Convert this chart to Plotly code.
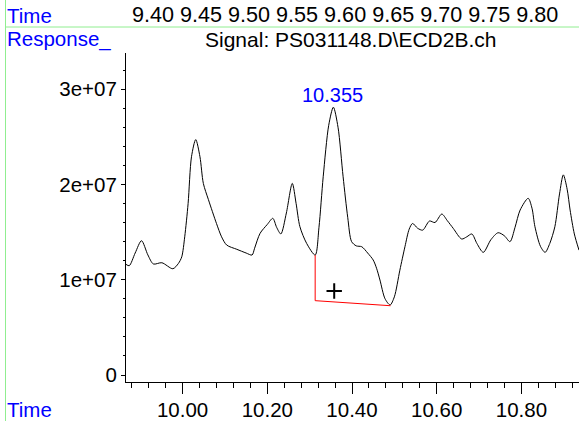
import plotly.graph_objects as go

# ---- data ----
time = [9.866, 9.874, 9.888, 9.903, 9.918, 9.931, 9.951, 9.977, 9.990, 9.998,
        10.005, 10.013, 10.021, 10.031, 10.041, 10.049, 10.061, 10.080, 10.092, 10.104,
        10.128, 10.150, 10.164, 10.170, 10.183, 10.200, 10.213, 10.222, 10.232, 10.245,
        10.259, 10.268, 10.277, 10.293, 10.313, 10.322, 10.332, 10.345, 10.356, 10.367,
        10.379, 10.390, 10.399, 10.410, 10.423, 10.437, 10.450, 10.458, 10.466, 10.478,
        10.490, 10.500, 10.513, 10.525, 10.535, 10.543, 10.555, 10.567, 10.583, 10.596,
        10.612, 10.625, 10.639, 10.659, 10.671, 10.683, 10.695, 10.710, 10.728, 10.745,
        10.760, 10.773, 10.785, 10.797, 10.816, 10.825, 10.832, 10.845, 10.856, 10.867,
        10.879, 10.890, 10.899, 10.908, 10.915, 10.925, 10.936]
response_e7 = [1.162, 1.147, 1.28, 1.409, 1.26, 1.165, 1.178, 1.115, 1.17, 1.24,
               1.45, 1.80, 2.29, 2.47, 2.29, 2.01, 1.84, 1.59, 1.45, 1.364,
               1.319, 1.28, 1.259, 1.33, 1.487, 1.58, 1.644, 1.55, 1.48, 1.70,
               2.01, 1.80, 1.556, 1.38, 1.259, 1.55, 2.08, 2.62, 2.81, 2.60,
               2.08, 1.65, 1.40, 1.355, 1.346, 1.28, 1.207, 1.12, 0.997, 0.80,
               0.735, 0.82, 1.10, 1.346, 1.53, 1.59, 1.54, 1.52, 1.616, 1.60,
               1.689, 1.62, 1.539, 1.427, 1.45, 1.48, 1.38, 1.287, 1.42, 1.493,
               1.46, 1.399, 1.55, 1.731, 1.854, 1.75, 1.556, 1.35, 1.287, 1.38,
               1.556, 1.90, 2.10, 1.95, 1.731, 1.48, 1.31]
response = [v * 1e7 for v in response_e7]

baseline_time = [10.313, 10.313, 10.491]
baseline_resp = [1.259e7, 0.78e7, 0.727e7]

peak_time = 10.355
peak_label = "10.355"
peak_label_resp = 2.94e7
marker_time = [10.358]
marker_resp = [0.881e7]

x_tick_vals = [10.00, 10.20, 10.40, 10.60, 10.80]
x_tick_text = ["10.00", "10.20", "10.40", "10.60", "10.80"]
y_tick_vals = [0, 1e7, 2e7, 3e7]
y_tick_text = ["0", "1e+07", "2e+07", "3e+07"]
top_tick_text = ["9.40", "9.45", "9.50", "9.55", "9.60", "9.65", "9.70", "9.75", "9.80"]

title_text = "Signal: PS031148.D\\ECD2B.ch"

# ---- layout geometry (pixels) ----
W, H = 579, 421
FONT = "Liberation Sans, Arial, sans-serif"
BLUE = "#0000ff"
GREEN = "#90ee90"


def px(x):
    return x / W


def py(y):
    return (H - y) / H


fig = go.Figure()
fig.add_trace(go.Scatter(x=time, y=response, mode="lines",
                         line=dict(color="black", width=1, shape="spline", smoothing=0.8),
                         hoverinfo="skip"))
fig.add_trace(go.Scatter(x=baseline_time, y=baseline_resp, mode="lines",
                         line=dict(color="#ff0000", width=1), hoverinfo="skip"))
fig.add_trace(go.Scatter(x=marker_time, y=marker_resp, mode="markers",
                         marker=dict(symbol="cross-thin-open", size=11, color="black",
                                     line=dict(color="black", width=2)),
                         hoverinfo="skip"))

annotations = [
    dict(x=peak_time, y=peak_label_resp, xref="x", yref="y", text=peak_label,
         showarrow=False, font=dict(color=BLUE, size=20, family=FONT),
         xanchor="center", yanchor="middle"),
    dict(x=px(5), y=py(15), xref="paper", yref="paper", text="Time",
         showarrow=False, font=dict(color=BLUE, size=20.5, family=FONT),
         xanchor="left", yanchor="middle"),
    dict(x=px(130), y=py(14), xref="paper", yref="paper", text=" ".join(top_tick_text),
         showarrow=False, font=dict(color="black", size=21.6, family=FONT),
         xanchor="left", yanchor="middle"),
    dict(x=px(5), y=py(39.5), xref="paper", yref="paper", text="Response_",
         showarrow=False, font=dict(color=BLUE, size=20.5, family=FONT),
         xanchor="left", yanchor="middle"),
    dict(x=px(350), y=py(39.5), xref="paper", yref="paper", text=title_text,
         showarrow=False, font=dict(color="black", size=21, family=FONT),
         xanchor="center", yanchor="middle"),
    dict(x=px(5), y=py(409), xref="paper", yref="paper", text="Time",
         showarrow=False, font=dict(color=BLUE, size=20.5, family=FONT),
         xanchor="left", yanchor="middle"),
]

shapes = [
    dict(type="line", xref="paper", yref="paper", x0=px(5.5), x1=px(W), y0=py(27), y1=py(27),
         line=dict(color=GREEN, width=1)),
    dict(type="line", xref="paper", yref="paper", x0=px(5.5), x1=px(5.5), y0=0, y1=1,
         line=dict(color=GREEN, width=1)),
]

x_lo = 10.0 + (126 - 182.6) / 423.5
x_hi = 10.0 + (579 - 182.6) / 423.5
y_lo = (375 - 382) / 95.3 * 1e7
y_hi = (375 - 53) / 95.3 * 1e7

fig.update_layout(
    width=W, height=H,
    margin=dict(l=0, r=0, t=0, b=0),
    paper_bgcolor="white", plot_bgcolor="white",
    showlegend=False,
    font=dict(family=FONT, size=20.5, color="black"),
    annotations=annotations,
    shapes=shapes,
    xaxis=dict(domain=[px(126), 1.0], range=[x_lo, x_hi], showgrid=False, zeroline=False,
               showline=True, linecolor="black", linewidth=1,
               ticks="outside", ticklen=11, tickwidth=1, tickcolor="black",
               tickvals=x_tick_vals, ticktext=x_tick_text,
               tickfont=dict(size=20.5, family=FONT, color="black"),
               ticklabelstandoff=-2,
               minor=dict(dtick=0.04, tick0=10.0, ticks="outside", ticklen=5,
                          tickcolor="black", showgrid=False),
               automargin=False),
    yaxis=dict(domain=[py(382), py(53)], range=[y_lo, y_hi], showgrid=False, zeroline=False,
               showline=True, linecolor="black", linewidth=1,
               ticks="outside", ticklen=4, tickwidth=1, tickcolor="black",
               tickvals=y_tick_vals, ticktext=y_tick_text,
               tickfont=dict(size=20.5, family=FONT, color="black"),
               minor=dict(dtick=2e6, tick0=0, ticks="outside", ticklen=2,
                          tickcolor="black", showgrid=False),
               automargin=False),
)

fig.write_html("out.html",
               config={"displayModeBar": False},
               post_script="document.body.style.margin='0px';"
                           "document.body.style.overflow='hidden';")
